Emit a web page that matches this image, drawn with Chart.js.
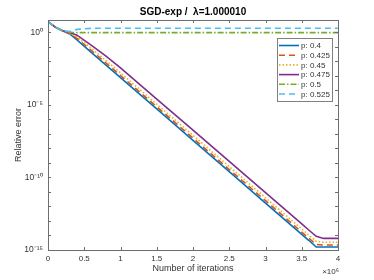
<!DOCTYPE html>
<html>
<head>
<meta charset="utf-8">
<script src="https://cdn.jsdelivr.net/npm/chart.js@4.4.1/dist/chart.umd.min.js"></script>
<style>
  html, body { margin: 0; padding: 0; background: #fff; }
  #wrap { width: 374px; height: 280px; }
</style>
</head>
<body>
<div id="wrap"><canvas id="errChart"></canvas></div>
<script>
// iterations (x) shared by all runs
var iterations = [0, 1e5, 2e5, 3e5, 4e5, 6e5, 8e5, 1e6, 1.5e6, 2e6, 2.5e6, 3e6, 3.5e6, 3.6e6, 3.7e6, 3.8e6, 4e6];

// relative error per p value
var errP0400 = [5.37, 2.24, 1.26, 0.76, 0.295, 0.0398, 5.5e-3, 7.6e-4, 5.2e-6, 3.6e-8, 2.5e-10, 1.7e-12, 1.2e-14, 4.5e-15, 1.6e-15, 1.6e-15, 1.6e-15];
var errP0425 = [5.37, 2.24, 1.26, 0.79, 0.38, 0.054, 7.6e-3, 1.05e-3, 7.4e-6, 5.1e-8, 3.5e-10, 2.5e-12, 1.7e-14, 6.3e-15, 2.4e-15, 2.2e-15, 2.2e-15];
var errP0450 = [5.37, 2.24, 1.26, 0.83, 0.47, 0.079, 0.0112, 1.6e-3, 1.1e-5, 7.9e-8, 5.6e-10, 4.0e-12, 2.8e-14, 1.05e-14, 4.0e-15, 3.4e-15, 3.4e-15];
var errP0475 = [5.37, 2.24, 1.26, 0.95, 0.63, 0.126, 0.0224, 3.5e-3, 2.5e-5, 1.8e-7, 1.26e-9, 8.9e-12, 6.3e-14, 2.3e-14, 8.7e-15, 6.3e-15, 6.3e-15];
var errP0500 = [5.37, 2.24, 1.26, 1.0, 0.95, 0.94, 0.94, 0.94, 0.94, 0.94, 0.94, 0.94, 0.94, 0.94, 0.94, 0.94, 0.94];
var errP0525 = [5.37, 2.24, 1.26, 1.12, 1.58, 1.86, 1.9, 1.9, 1.9, 1.9, 1.9, 1.9, 1.9, 1.9, 1.9, 1.9, 1.9];

var seriesLabels = ['p: 0.4', 'p: 0.425', 'p: 0.45', 'p: 0.475', 'p: 0.5', 'p: 0.525'];
var seriesData = [errP0400, errP0425, errP0450, errP0475, errP0500, errP0525];

var xTickValues = [0, 5e5, 1e6, 1.5e6, 2e6, 2.5e6, 3e6, 3.5e6, 4e6];
var yDecades = [-15, -14, -13, -12, -11, -10, -9, -8, -7, -6, -5, -4, -3, -2, -1, 0];
var yLabelled = { '0': '10\u2070', '-5': '10\u207B\u2075', '-10': '10\u207B\u00B9\u2070', '-15': '10\u207B\u00B9\u2075' };

var colors = ['#0072BD', '#D95319', '#EDB120', '#7E2F8E', '#77AC30', '#4DBEEE'];
var dashes = [[], [6, 4], [1.5, 2], [], [6, 2, 1.5, 2], [6, 4]];

var FONT = '"Liberation Sans", Arial, Helvetica, sans-serif';
var AXIS_GRAY = '#6e6e6e';
var TEXT_GRAY = '#333333';

function toPoints(ys) {
    return iterations.map(function(x, i) { return { x: x, y: ys[i] }; });
}

var datasets = seriesData.map(function(ys, i) {
    return {
        label: seriesLabels[i],
        data: toPoints(ys),
        borderColor: colors[i],
        backgroundColor: colors[i],
        borderWidth: 1.6,
        borderDash: dashes[i],
        pointRadius: 0,
        tension: 0,
        order: 10 - i   // later series drawn on top, like matlab
    };
});

// ticks inside the box, box outline, title, legend, x10^6 note
var matlabAxes = {
    id: 'matlabAxes',
    afterDraw: function(chart) {
        var c = chart.ctx;
        var a = chart.chartArea;
        var xs = chart.scales.x, ys = chart.scales.y;
        c.save();
        c.strokeStyle = AXIS_GRAY;
        c.lineWidth = 1;
        c.setLineDash([]);
        c.beginPath();
        xTickValues.forEach(function(v) {
            var px = Math.round(xs.getPixelForValue(v)) + 0.5;
            c.moveTo(px, a.bottom); c.lineTo(px, a.bottom - 3);
            c.moveTo(px, a.top); c.lineTo(px, a.top + 3);
        });
        yDecades.forEach(function(e) {
            var py = Math.round(ys.getPixelForValue(Math.pow(10, e))) + 0.5;
            c.moveTo(a.left, py); c.lineTo(a.left + 3, py);
            c.moveTo(a.right, py); c.lineTo(a.right - 3, py);
        });
        c.stroke();
        c.strokeRect(Math.round(a.left) + 0.5, Math.round(a.top) + 0.5,
            Math.round(a.right - a.left), Math.round(a.bottom - a.top));

        // title centred over the plot box
        c.fillStyle = '#000';
        c.font = 'bold 10px ' + FONT;
        c.textAlign = 'center';
        c.textBaseline = 'middle';
        c.fillText('SGD-exp /  \u03BB=1.000010', (a.left + a.right) / 2, 12);

        // legend box
        var lx = 277, ly = 38, lw = 55, lh = 63;
        c.fillStyle = '#fff';
        c.fillRect(lx, ly, lw, lh);
        c.strokeStyle = '#808080';
        c.strokeRect(lx + 0.5, ly + 0.5, lw, lh);
        c.font = '8px ' + FONT;
        c.textAlign = 'left';
        chart.data.datasets.forEach(function(ds, i) {
            var rowY = 45.5 + i * 9.7;
            c.strokeStyle = ds.borderColor;
            c.lineWidth = 1.6;
            c.setLineDash(ds.borderDash);
            c.beginPath();
            c.moveTo(279, rowY); c.lineTo(299, rowY);
            c.stroke();
            c.fillStyle = TEXT_GRAY;
            c.fillText(ds.label, 301, rowY + 0.5);
        });

        // exponent note under the x axis
        c.setLineDash([]);
        c.fillStyle = TEXT_GRAY;
        c.textAlign = 'right';
        c.font = '8px ' + FONT;
        c.fillText('\u00D710\u2076', a.right + 1, 272);
        c.restore();
    }
};

var ctx = document.getElementById('errChart').getContext('2d');
var errChart = new Chart(ctx, {
    type: 'line',
    data: { datasets: datasets },
    options: {
        responsive: true,
        maintainAspectRatio: false,
        animation: false,
        layout: { padding: { left: 0, right: 36, top: 20, bottom: 0 } },
        plugins: {
            legend: { display: false },
            tooltip: { enabled: false },
            title: { display: false }
        },
        scales: {
            x: {
                type: 'linear',
                min: 0,
                max: 4e6,
                grid: { display: false, drawTicks: false },
                border: { display: false },
                afterBuildTicks: function(scale) {
                    scale.ticks = xTickValues.map(function(v) { return { value: v }; });
                },
                afterFit: function(scale) { scale.height = 30; },
                ticks: {
                    color: TEXT_GRAY,
                    padding: 4,
                    maxRotation: 0,
                    autoSkip: false,
                    font: { family: FONT, size: 8 },
                    callback: function(v) { return String(v / 1e6); }
                },
                title: {
                    display: true,
                    text: 'Number of iterations',
                    color: TEXT_GRAY,
                    font: { family: FONT, size: 9, lineHeight: 1.2 },
                    padding: { top: 0, bottom: 5.6 }
                }
            },
            y: {
                type: 'logarithmic',
                min: 1e-15,
                max: 7.0,
                bounds: 'data',
                grid: { display: false, drawTicks: false },
                border: { display: false },
                afterBuildTicks: function(scale) {
                    scale.ticks = yDecades.map(function(e) { return { value: Math.pow(10, e) }; });
                },
                afterFit: function(scale) { scale.width = 48; },
                ticks: {
                    color: TEXT_GRAY,
                    padding: 5,
                    autoSkip: false,
                    font: { family: FONT, size: 8.5 },
                    callback: function(v) {
                        var e = Math.round(Math.log10(v));
                        return yLabelled[String(e)] || '';
                    }
                },
                title: {
                    display: true,
                    text: 'Relative error',
                    color: TEXT_GRAY,
                    font: { family: FONT, size: 9, lineHeight: 1.2 },
                    padding: { top: 13, bottom: 0 }
                }
            }
        }
    },
    plugins: [matlabAxes]
});
</script>
</body>
</html>
